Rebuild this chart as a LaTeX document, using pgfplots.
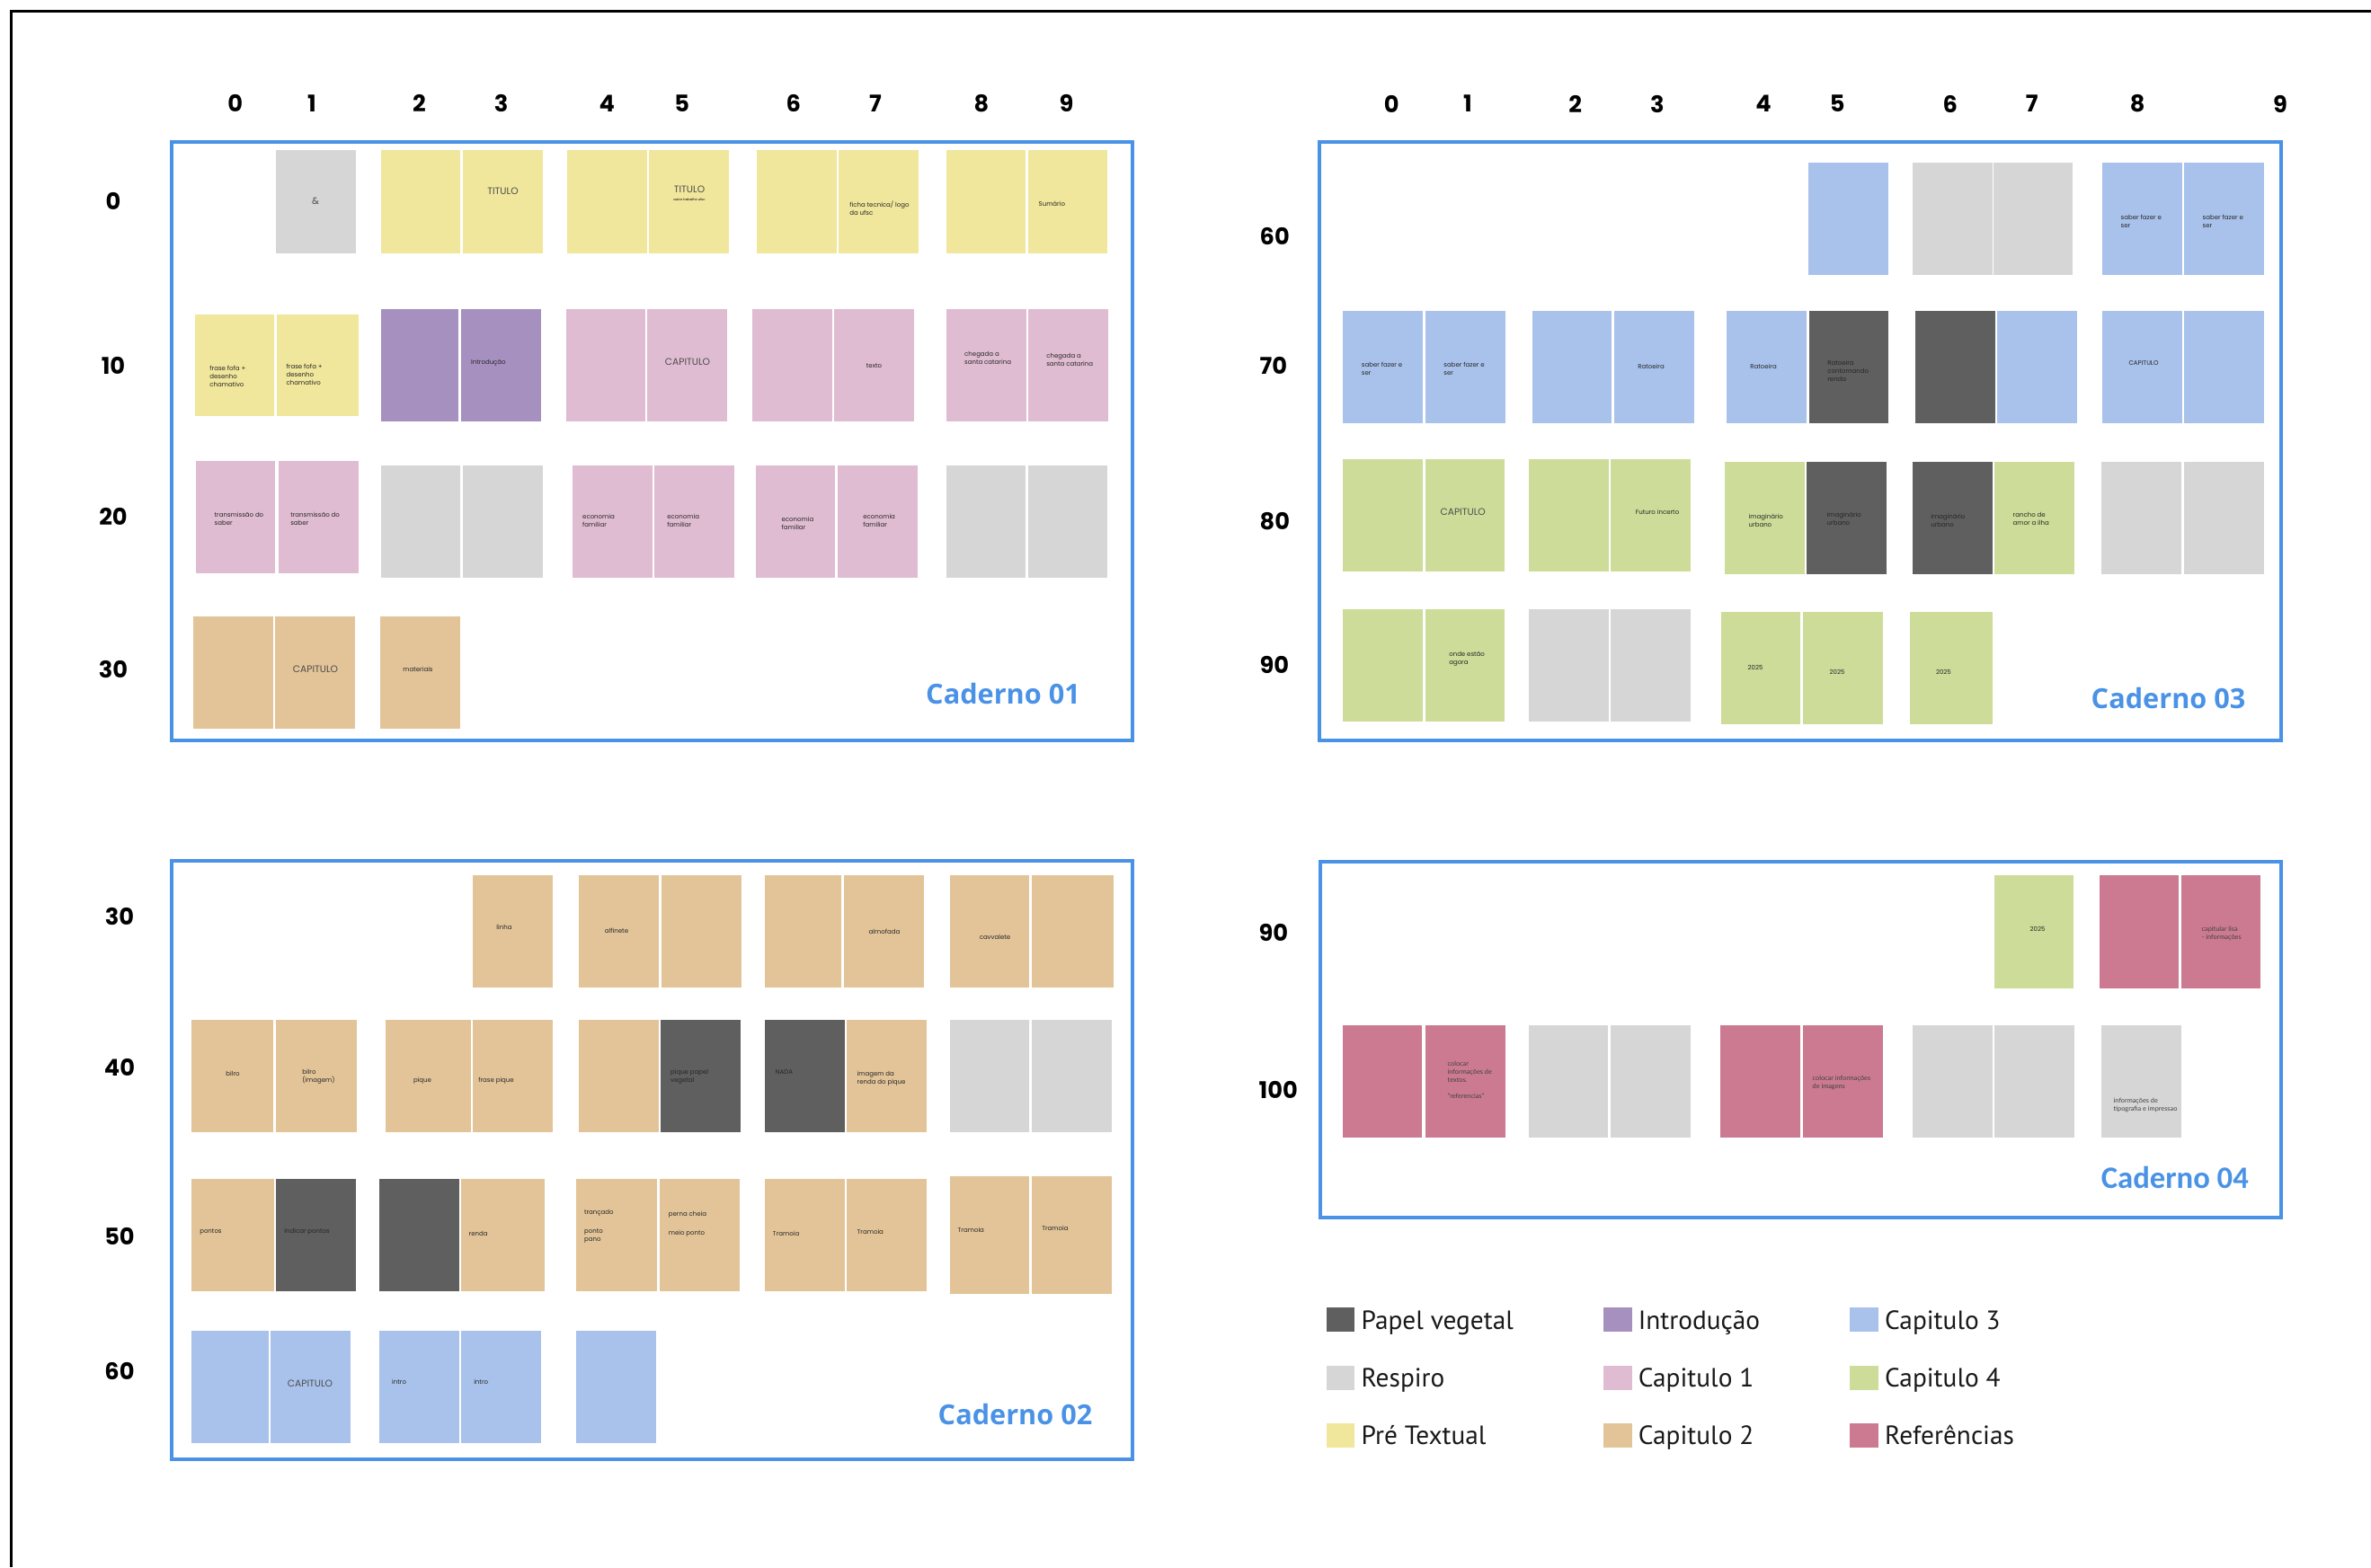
\documentclass[border=0pt]{standalone}
\usepackage{pgfplots}
\pgfplotsset{compat=1.18}
\usepackage{fontspec}
\setmainfont{Lato}
\newfontfamily\pop{Poppins}
\newfontfamily\osb{Open Sans}
\newfontfamily\carl{Carlito}
\newfontfamily\pts{PT Sans}
\newfontfamily\lato{Lato}

\definecolor{pv}{HTML}{5F5F5F}
\definecolor{resp}{HTML}{D6D6D6}
\definecolor{pre}{HTML}{F0E69C}
\definecolor{intro}{HTML}{A590C0}
\definecolor{capa}{HTML}{E0BCD2}
\definecolor{capb}{HTML}{E2C498}
\definecolor{capc}{HTML}{A9C2EC}
\definecolor{capd}{HTML}{CDDC98}
\definecolor{refc}{HTML}{CC7A92}
\definecolor{cblue}{HTML}{4A92E6}

% one page of the booklet: colour, x0, y0, x1, y1 (reference pixels, y downwards)
\newcommand{\pg}[5]{\addplot[forget plot, fill=#1, draw=none, mark=none] coordinates {(#2,-#3) (#4,-#3) (#4,-#5) (#2,-#5)};}
\tikzset{pgtxt/.style={inner sep=0pt, align=left, font=\pop\fontsize{2.1}{2.7}\selectfont, text=black!85}}
\newcommand{\tl}[3]{\node[pgtxt, anchor=west] at (axis cs:#1,-#2) {#3};}
\newcommand{\tcn}[3]{\node[pgtxt, anchor=center] at (axis cs:#1,-#2) {#3};}
\newcommand{\capt}[3]{\node[inner sep=0pt, font=\pop\fontsize{3.2}{3.5}\selectfont, text=black!70] at (axis cs:#1,-#2) {#3};}
\newcommand{\tlq}[3]{\node[inner sep=0pt, align=left, font=\lato\fontsize{2.2}{2.7}\selectfont, text=black!75, anchor=west] at (axis cs:#1,-#2) {#3};}

\pgfplotsset{panel/.style={
  x=0.3pt, y=0.3pt, clip=false,
  axis line style={draw=cblue, line width=1.3pt},
  major tick length=0pt, tick style={draw=none},
  xticklabel pos=right,
  tick label style={font=\pop\bfseries\fontsize{7.7}{8}\selectfont, inner sep=0pt, text=black},
}}

\begin{document}
\begin{tikzpicture}
\useasboundingbox (0,0) rectangle (791.4pt,-523.2pt);
\draw[line width=0.9pt, black] (3.6pt,-523.2pt) -- (3.6pt,-3.6pt) -- (791.4pt,-3.6pt);

% ---------------- Caderno 01 ----------------
\begin{axis}[panel, at={(57.3pt,-247.2pt)}, anchor=south west,
  xmin=191, xmax=1260, ymin=-824, ymax=-158,
  xtick={261.7,347,466.5,557.6,675.4,758.6,882.9,973.9,1091.8,1186.4},
  xticklabels={0,1,2,3,4,5,6,7,8,9},
  xticklabel style={anchor=center, yshift=12.9pt},
  ytick={-745,-575,-407,-224}, yticklabels={30,20,10,0},
  yticklabel style={anchor=center, xshift=-19.5pt}]
\pg{resp}{307}{167}{396}{282}
\pg{pre}{424}{167}{512}{282} \pg{pre}{515}{167}{604}{282}
\pg{pre}{631}{167}{720}{282} \pg{pre}{722}{167}{811}{282}
\pg{pre}{842}{167}{931}{282} \pg{pre}{933}{167}{1022}{282}
\pg{pre}{1053}{167}{1141}{282} \pg{pre}{1144}{167}{1232}{282}
\pg{pre}{217}{350}{305}{463} \pg{pre}{308}{350}{399}{463}
\pg{intro}{424}{344}{510}{469} \pg{intro}{513}{344}{602}{469}
\pg{capa}{630}{344}{718}{469} \pg{capa}{720}{344}{809}{469}
\pg{capa}{837}{344}{926}{469} \pg{capa}{928}{344}{1017}{469}
\pg{capa}{1053}{344}{1142}{469} \pg{capa}{1144}{344}{1233}{469}
\pg{capa}{218}{513}{306}{638} \pg{capa}{310}{513}{399}{638}
\pg{resp}{424}{518}{512}{643} \pg{resp}{515}{518}{604}{643}
\pg{capa}{637}{518}{726}{643} \pg{capa}{728}{518}{817}{643}
\pg{capa}{841}{518}{929}{643} \pg{capa}{932}{518}{1021}{643}
\pg{resp}{1053}{518}{1141}{643} \pg{resp}{1144}{518}{1232}{643}
\pg{capb}{215}{686}{304}{811} \pg{capb}{306}{686}{395}{811}
\pg{capb}{423}{686}{512}{811}
\capt{351}{224}{\&}
\capt{559.5}{213}{TITULO}
\capt{767}{211}{TITULO}
\node[inner sep=0pt, font=\pop\fontsize{1.1}{1.3}\selectfont] at (axis cs:767,-222) {autor trabalho ufsc};
\tl{944.6}{232}{ficha tecnica/ logo\\da ufsc}
\tl{1155}{227}{Sumário}
\tl{232.7}{419}{frase fofa +\\desenho\\chamativo}
\tl{318}{416.5}{frase fofa +\\desenho\\chamativo}
\tl{523.5}{404}{Introdução}
\capt{765}{403}{CAPITULO}
\tcn{972.5}{407}{texto}
\tl{1072.5}{398}{chegada a\\santa catarina}
\tl{1163.6}{400}{chegada a\\santa catarina}
\tl{238}{577.5}{transmissão do\\saber}
\tl{322.6}{577.5}{transmissão do\\saber}
\tl{647.5}{579.7}{economia\\familiar}
\tl{741.7}{579}{economia\\familiar}
\tl{868.9}{582.3}{economia\\familiar}
\tl{959.6}{579.7}{economia\\familiar}
\capt{351}{745}{CAPITULO}
\tcn{465}{744.6}{materiais}
\node[anchor=east, inner sep=0pt, text=cblue, font=\osb\bfseries\fontsize{9.2}{10}\selectfont] at (axis cs:1202.5,-772) {Caderno 01};
\end{axis}

% ---------------- Caderno 03 ----------------
\begin{axis}[panel, at={(440.4pt,-247.2pt)}, anchor=south west,
  xmin=1468, xmax=2538, ymin=-824, ymax=-158,
  xtick={1548.2,1633,1752.7,1843.8,1962,2044.2,2169.7,2260.8,2378.2,2537},
  xticklabels={0,1,2,3,4,5,6,7,8,9},
  xticklabel style={anchor=center, yshift=12.75pt},
  ytick={-740.2,-580.2,-407.2,-262.7}, yticklabels={90,80,70,60},
  yticklabel style={anchor=west, xshift=-20.1pt}]
\pg{capc}{2012}{181}{2101}{306}
\pg{resp}{2128}{181}{2217}{306} \pg{resp}{2218}{181}{2306}{306}
\pg{capc}{2339}{181}{2428}{306} \pg{capc}{2430}{181}{2519}{306}
\pg{capc}{1494}{346}{1583}{471} \pg{capc}{1586}{346}{1675}{471}
\pg{capc}{1705}{346}{1793}{471} \pg{capc}{1796}{346}{1885}{471}
\pg{capc}{1921}{346}{2010}{471}
\pg{pv}{2013}{346}{2101}{471}
\pg{pv}{2131}{346}{2220}{471}
\pg{capc}{2222}{346}{2311}{471}
\pg{capc}{2339}{346}{2428}{471} \pg{capc}{2430}{346}{2519}{471}
\pg{capd}{1494}{511}{1583}{636} \pg{capd}{1586}{511}{1674}{636}
\pg{capd}{1701}{511}{1790}{636} \pg{capd}{1792}{511}{1881}{636}
\pg{capd}{1919}{514}{2008}{639}
\pg{pv}{2010}{514}{2099}{639}
\pg{pv}{2128}{514}{2217}{639}
\pg{capd}{2219}{514}{2308}{639}
\pg{resp}{2338}{514}{2427}{639} \pg{resp}{2430}{514}{2519}{639}
\pg{capd}{1494}{678}{1583}{803} \pg{capd}{1586}{678}{1674}{803}
\pg{resp}{1701}{678}{1790}{803} \pg{resp}{1792}{678}{1881}{803}
\pg{capd}{1915}{681}{2003}{806} \pg{capd}{2006}{681}{2095}{806}
\pg{capd}{2125}{681}{2217}{806}
\tl{2359}{246}{saber fazer e\\ser}
\tl{2450}{246}{saber fazer e\\ser}
\tl{1514.3}{410}{saber fazer e\\ser}
\tl{1605.8}{410}{saber fazer e\\ser}
\tcn{1837}{407.7}{Ratoeira}
\tcn{1962}{407.7}{Ratoeira}
\tl{2032.6}{412.5}{Ratoeira\\contornando\\renda}
\tcn{2385}{403.8}{CAPITULO}
\capt{1627.7}{569.6}{CAPITULO}
\tcn{1844}{569.6}{Futuro incerto}
\tl{1945}{579.5}{imaginário\\urbano}
\tl{2032}{577.5}{imaginário\\urbano}
\tl{2147.6}{579.5}{imaginário\\urbano}
\tl{2239}{577}{rancho de\\amor a ilha}
\tl{1611.6}{733.2}{onde estão\\agora}
\tl{1944}{742.6}{2025}
\tl{2035}{747.5}{2025}
\tcn{2162.4}{747.5}{2025}
\node[anchor=east, inner sep=0pt, text=cblue, font=\osb\bfseries\fontsize{9.2}{10}\selectfont] at (axis cs:2499,-776.5) {Caderno 03};
\end{axis}

% ---------------- Caderno 02 ----------------
\begin{axis}[panel, at={(57.3pt,-487.2pt)}, anchor=south west,
  xmin=191, xmax=1260, ymin=-1624, ymax=-958,
  xtick=\empty,
  ytick={-1525.9,-1376.2,-1187.8,-1019.5}, yticklabels={60,50,40,30},
  yticklabel style={anchor=center, xshift=-17.4pt}]
\pg{capb}{526}{974}{615}{1099}
\pg{capb}{644}{974}{733}{1099} \pg{capb}{736}{974}{825}{1099}
\pg{capb}{851}{974}{936}{1099} \pg{capb}{939}{974}{1028}{1099}
\pg{capb}{1057}{974}{1145}{1099} \pg{capb}{1148}{974}{1239}{1099}
\pg{capb}{213}{1135}{304}{1260} \pg{capb}{307}{1135}{397}{1260}
\pg{capb}{429}{1135}{524}{1260} \pg{capb}{526}{1135}{615}{1260}
\pg{capb}{644}{1135}{733}{1260}
\pg{pv}{735}{1135}{824}{1260}
\pg{pv}{851}{1135}{940}{1260}
\pg{capb}{942}{1135}{1031}{1260}
\pg{resp}{1057}{1135}{1145}{1260} \pg{resp}{1148}{1135}{1237}{1260}
\pg{capb}{213}{1312}{305}{1437}
\pg{pv}{307}{1312}{396}{1437}
\pg{pv}{422}{1312}{511}{1437}
\pg{capb}{513}{1312}{606}{1437}
\pg{capb}{641}{1312}{731}{1437} \pg{capb}{734}{1312}{823}{1437}
\pg{capb}{851}{1312}{940}{1437} \pg{capb}{942}{1312}{1031}{1437}
\pg{capb}{1057}{1309}{1145}{1440} \pg{capb}{1148}{1309}{1237}{1440}
\pg{capc}{213}{1481}{299}{1606} \pg{capc}{301}{1481}{390}{1606}
\pg{capc}{422}{1481}{511}{1606} \pg{capc}{513}{1481}{602}{1606}
\pg{capc}{641}{1481}{730}{1606}
\tcn{561}{1032}{linha}
\tcn{686}{1036}{alfinete}
\tcn{984}{1037}{almofada}
\tcn{1107}{1043}{cavvalete}
\tcn{259}{1195}{bilro}
\tl{335.6}{1198}{bilro\\(imagem)}
\tcn{470}{1202.5}{pique}
\tl{531.6}{1202.5}{frase pique}
\tl{745.4}{1198}{pique papel\\vegetal}
\tl{862}{1193}{NADA}
\tl{953}{1200}{imagem da\\renda do pique}
\tl{221.6}{1370.8}{pontos}
\tl{315.7}{1370.8}{indicar pontos}
\tl{521}{1372.6}{renda}
\tl{649.4}{1350}{trançado}
\tl{649.4}{1375.2}{ponto\\pano}
\tl{743.2}{1352}{perna cheia}
\tl{743.2}{1372.6}{meio ponto}
\tl{859.3}{1372.6}{Tramoia}
\tl{953}{1370.4}{Tramoia}
\tl{1065}{1369}{Tramoia}
\tl{1158.6}{1367.2}{Tramoia}
\capt{345}{1539.6}{CAPITULO}
\tl{435.5}{1538.2}{intro}
\tl{526.6}{1538.2}{intro}
\node[anchor=east, inner sep=0pt, text=cblue, font=\osb\bfseries\fontsize{9.2}{10}\selectfont] at (axis cs:1216,-1574) {Caderno 02};
\end{axis}

% ---------------- Caderno 04 + legend ----------------
\begin{axis}[panel, at={(440.7pt,-406.5pt)}, anchor=south west,
  xmin=1469, xmax=2538, ymin=-1355, ymax=-959,
  xtick=\empty,
  ytick={-1212.7,-1038.3}, yticklabels={100,90},
  yticklabel style={anchor=west, xshift=-20.7pt},
  legend columns=3,
  legend cell align=left,
  legend style={at={(0.0056,-0.2475)}, anchor=north west, draw=none, fill=none,
    inner sep=0pt, font=\pts\fontsize{8.8}{10}\selectfont, text=black!90,
    column sep=2.2pt, row sep=10.2pt,
    nodes={inner sep=0pt, text height=1.5ex, text depth=.3ex},
    /tikz/every even column/.append style={column sep=30pt}},
  legend image code/.code={\fill[#1] (0pt,-4.05pt) rectangle (9.5pt,4.05pt);}]
\pg{capd}{2219}{974}{2307}{1100}
\pg{refc}{2336}{974}{2424}{1100} \pg{refc}{2427}{974}{2515}{1100}
\pg{refc}{1494}{1141}{1582}{1266} \pg{refc}{1586}{1141}{1675}{1266}
\pg{resp}{1701}{1141}{1789}{1266} \pg{resp}{1792}{1141}{1881}{1266}
\pg{refc}{1914}{1141}{2003}{1266} \pg{refc}{2006}{1141}{2095}{1266}
\pg{resp}{2128}{1141}{2217}{1266} \pg{resp}{2219}{1141}{2308}{1266}
\pg{resp}{2338}{1141}{2427}{1266}
\tcn{2267}{1034.3}{2025}
\tlq{2449}{1039}{capitular lisa\\- informações}
\tlq{1610}{1201.7}{colocar\\informações de\\textos.\\[2.7pt]“referencias”}
\tlq{2016}{1204.8}{colocar informações\\de imagens}
\tlq{2351}{1229.6}{informações de\\tipografia e impressao}
\node[anchor=east, inner sep=0pt, text=cblue, font=\carl\bfseries\fontsize{10.4}{11}\selectfont] at (axis cs:2502.5,-1310) {Caderno 04};
\addlegendimage{fill=pv, draw=none} \addlegendentry{Papel vegetal}
\addlegendimage{fill=intro, draw=none} \addlegendentry{Introdução}
\addlegendimage{fill=capc, draw=none} \addlegendentry{Capitulo 3}
\addlegendimage{fill=resp, draw=none} \addlegendentry{Respiro}
\addlegendimage{fill=capa, draw=none} \addlegendentry{Capitulo 1}
\addlegendimage{fill=capd, draw=none} \addlegendentry{Capitulo 4}
\addlegendimage{fill=pre, draw=none} \addlegendentry{Pré Textual}
\addlegendimage{fill=capb, draw=none} \addlegendentry{Capitulo 2}
\addlegendimage{fill=refc, draw=none} \addlegendentry{Referências}
\end{axis}
\end{tikzpicture}
\end{document}
